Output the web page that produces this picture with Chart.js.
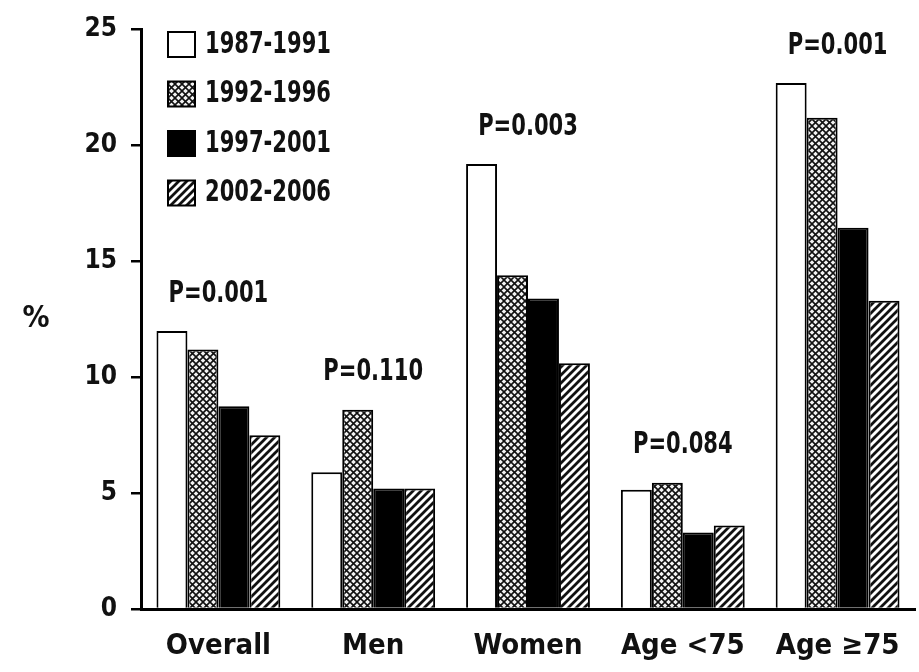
<!DOCTYPE html>
<html>
<head>
<meta charset="utf-8">
<script src="https://cdn.jsdelivr.net/npm/chart.js@4"></script>
<style>
  html, body { margin: 0; padding: 0; background: #fff; }
  #wrap { width: 919px; height: 672px; position: relative; }
</style>
</head>
<body>
<div id="wrap"><canvas id="ageChart"></canvas></div>
<script>
// data
const categories = ['Overall', 'Men', 'Women', 'Age <75', 'Age \u226575'];
const periods = ['1987-1991', '1992-1996', '1997-2001', '2002-2006'];
const p1987 = [12.0, 5.9, 19.2, 5.15, 22.7];
const p1992 = [11.2, 8.6, 14.4, 5.45, 21.2];
const p1997 = [8.75, 5.2, 13.4, 3.3, 16.45];
const p2002 = [7.5, 5.2, 10.6, 3.6, 13.3];
const pLabels = ['P=0.001', 'P=0.110', 'P=0.003', 'P=0.084', 'P=0.001'];
const yTicks = [0, 5, 10, 15, 20, 25];

const FONT = "'Liberation Sans Narrow', 'Arial Narrow', 'DejaVu Sans Condensed', sans-serif";

function makePattern(kind) {
    const c = document.createElement('canvas');
    const s = kind === 'cross' ? 7 : 8;
    c.width = s; c.height = s;
    const g = c.getContext('2d');
    g.fillStyle = kind === 'cross' ? '#f2f2f2' : '#fff';
    g.fillRect(0, 0, s, s);
    g.strokeStyle = '#111';
    if (kind === 'cross') {
        g.lineWidth = 1.6;
        g.beginPath();
        g.moveTo(0, 0); g.lineTo(s, s);
        g.moveTo(0, s); g.lineTo(s, 0);
        g.stroke();
    } else {
        g.lineWidth = 2.8;
        g.beginPath();
        g.moveTo(0, s); g.lineTo(s, 0);
        g.moveTo(-s / 2, s / 2); g.lineTo(s / 2, -s / 2);
        g.moveTo(s / 2, s * 1.5); g.lineTo(s * 1.5, s / 2);
        g.stroke();
    }
    return g.createPattern(c, 'repeat');
}

const fills = ['#ffffff', makePattern('cross'), '#000000', makePattern('stripe')];
const series = [p1987, p1992, p1997, p2002];

// narrow-looking text: squeeze horizontally
function narrowText(ctx, text, x, y, align) {
    ctx.save();
    ctx.translate(x, y);
    ctx.scale(0.78, 1);
    ctx.textAlign = align;
    ctx.fillText(text, 0, 0);
    ctx.restore();
}

// P values, the legend and the "%" title
const extras = {
    id: 'extras',
    afterDatasetsDraw(chart) {
        const ctx = chart.ctx;
        const x = chart.scales.x, y = chart.scales.y;
        ctx.save();
        ctx.fillStyle = '#111';
        ctx.textBaseline = 'middle';
        ctx.font = 'bold 30px ' + FONT;

        pLabels.forEach((t, i) => {
            const top = Math.max(...series.map(s => s[i]));
            narrowText(ctx, t, x.getPixelForValue(i), y.getPixelForValue(top) - 37, 'center');
        });

        ctx.textAlign = 'center';
        ctx.fillText('%', 36, (chart.chartArea.top + chart.chartArea.bottom) / 2);

        periods.forEach((p, i) => {
            const bx = 168, by = 32 + i * 49.5;
            ctx.fillStyle = fills[i];
            ctx.fillRect(bx, by, 27, 25);
            ctx.strokeStyle = '#000';
            ctx.lineWidth = 2;
            ctx.strokeRect(bx, by, 27, 25);
            ctx.fillStyle = '#111';
            narrowText(ctx, p, 205, by + 13, 'left');
        });
        ctx.restore();
    }
};

new Chart(document.getElementById('ageChart'), {
    type: 'bar',
    data: {
        labels: categories,
        datasets: series.map((s, i) => ({
            label: periods[i],
            data: s,
            backgroundColor: fills[i],
            borderColor: '#000',
            borderWidth: 2,
            barPercentage: 1,
            categoryPercentage: 0.8
        }))
    },
    options: {
        responsive: true,
        maintainAspectRatio: false,
        animation: false,
        layout: { padding: { left: 0, right: 4, top: 28, bottom: 0 } },
        plugins: {
            legend: { display: false },
            tooltip: { enabled: false }
        },
        scales: {
            x: {
                grid: { display: false },
                border: { display: true, color: '#000', width: 3 },
                ticks: {
                    color: '#111',
                    font: { family: FONT, size: 29, weight: 'bold' },
                    padding: 12,
                    maxRotation: 0,
                    autoSkip: false
                },
                afterFit(scale) { scale.height = 63; }
            },
            y: {
                min: 0,
                max: 25,
                afterBuildTicks(scale) { scale.ticks = yTicks.map(v => ({ value: v })); },
                grid: { drawOnChartArea: false, drawTicks: true, tickLength: 10, color: '#000', lineWidth: 2.5 },
                border: { display: true, color: '#000', width: 3 },
                ticks: {
                    color: '#111',
                    font: { family: FONT, size: 26, weight: 'bold' },
                    padding: 14
                },
                afterFit(scale) { scale.width = 141; }
            }
        }
    },
    plugins: [extras]
});
</script>
</body>
</html>
